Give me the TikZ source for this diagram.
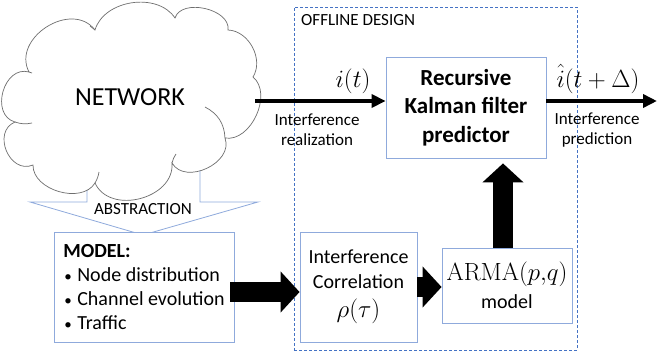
\documentclass[tikz,border=0pt]{standalone}
\usepackage[no-math]{fontspec}
\setmainfont{Carlito}
\usetikzlibrary{arrows.meta,calc}
\definecolor{boxblue}{RGB}{143,170,220}
\definecolor{dashblue}{RGB}{68,114,196}
\definecolor{cloudgray}{RGB}{110,110,110}
\newcommand{\smallbullet}{\makebox[14pt][l]{\hspace{1pt}{\fontsize{15}{15}\selectfont •}}}
\begin{document}
\begin{tikzpicture}[x=1pt,y=-1pt,
  box/.style={draw=boxblue, line width=0.8pt, fill=white, inner sep=0pt, align=center},
  thinarrow/.style={line width=4pt, -{Triangle[length=14pt,width=13pt]}},
  blockarrow/.style={line width=20pt, -{Triangle[length=19pt,width=40pt]}},
  lbl/.style={font=\fontsize{17}{20}\selectfont, align=center, inner sep=0pt},
  mth/.style={font=\fontsize{26}{30}\selectfont, inner sep=0pt},
  cloudline/.style={cloudgray, line width=0.7pt}]
\useasboundingbox (0,0) rectangle (657,356);

% offline design frame
\node[draw=dashblue, dash pattern=on 3pt off 2pt, line width=1pt,
      minimum width=283pt, minimum height=343pt, inner sep=0pt] (offline) at (435.5,178.5) {};
\node[lbl, anchor=base west] (offlbl) at (301,26) {OFFLINE DESIGN};

% abstraction arrow, its stem partly hidden behind the cloud
\draw[boxblue, line width=0.8pt, fill=white]
  (87,170) -- (87,202) -- (30,202) -- (143,235) -- (258,202) -- (200,202) -- (200,170);
\node[lbl] (abs) at (143,209) {ABSTRACTION};

% network cloud
\draw[cloudline, fill=white]
  (29,72)  to[bend left=85, looseness=1.25] (95,30)
           to[bend left=65] (175,18)
           to[bend left=85] (228,30)
           to[bend left=60] (253,77)
           to[bend left=75] (225,138)
           to[bend left=85, looseness=1.15] (172,163)
           to[bend left=80, looseness=1.15] (95,183)
           to[bend left=75] (33,165)
           to[bend left=90, looseness=1.4] (15,122)
           to[bend left=90, looseness=1.3] (29,72) -- cycle;
% inner arcs of the cloud
\draw[cloudline] (205,107) to[bend left=30] (225,138);
\draw[cloudline] (15,122) to[bend right=15] (32,123);
\draw[cloudline] (99,172) to[bend left=10] (95,183);
\draw[cloudline] (176,154) to[bend right=10] (172,163);
\draw[cloudline] (29,72) -- (32,73);
\draw[cloudline] (90,26) to[bend left=10] (95,30);
\coordinate (cloudR) at (255,101);
\node[font=\fontsize{26}{30}\selectfont, inner sep=0pt] (net) at (130,97) {NETWORK};

% boxes
\node[box, minimum width=180pt, minimum height=110pt, font=\fontsize{20}{24}\selectfont, align=left] (model) at (144,287)
  {\textbf{MODEL:}\\
   \smallbullet Node distribution\\
   \smallbullet Channel evolution\\
   \smallbullet Traffic};
\node[box, minimum width=117pt, minimum height=110pt, font=\fontsize{20}{25}\selectfont] (corr) at (358.5,287)
  {Interference\\Correlation\\[4pt]{\fontsize{24}{28}\selectfont$\rho(\tau)$}};
\node[box, minimum width=130pt, minimum height=75pt, font=\fontsize{20}{28}\selectfont] (arma) at (507,285.5)
  {{\fontsize{24}{28}\selectfont$\mathrm{ARMA}(p{,}q)$}\\model};
\node[box, minimum width=160pt, minimum height=101pt, font=\bfseries\fontsize{23}{28.5}\selectfont] (kalman) at (466,107.5)
  {Recursive\\Kalman filter\\predictor};

% signal path
\coordinate (kin) at ([yshift=6.5pt]kalman.west);
\coordinate (kout) at ([yshift=6.5pt]kalman.east);
\coordinate (outend) at (657,101);
\draw[thinarrow] (cloudR) -- (kin);
\draw[thinarrow] (kout) -- (outend);
\node[mth, anchor=base] (it) at (353,87) {$i(t)$};
\node[mth, anchor=base] (ihat) at (598,87) {$\hat{i}(t+\Delta)$};
\node[lbl] (real) at (317,130) {Interference\\realization};
\node[lbl] (pred) at (597,130) {Interference\\prediction};

% block arrows
\draw[blockarrow] ([xshift=-4pt,yshift=-5pt]model.east) -- ([yshift=-5pt]corr.west);
\draw[blockarrow] (corr.east) -- (corr.east -| arma.west);
\draw[blockarrow] ([xshift=-4pt]arma.north) -- ([xshift=-4pt,yshift=-5pt]kalman.south -| arma.north);
\end{tikzpicture}
\end{document}
